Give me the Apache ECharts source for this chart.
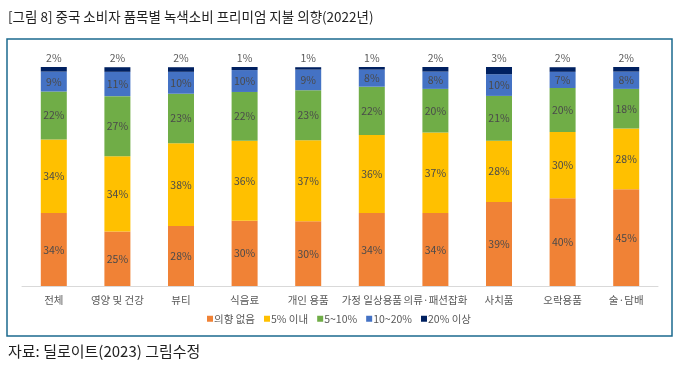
<!DOCTYPE html>
<html><head><meta charset="utf-8">
<script src="https://cdn.jsdelivr.net/npm/echarts@6/dist/echarts.min.js"></script>
<style>html,body{margin:0;padding:0;background:#fff}#c{width:678px;height:370px}</style>
</head><body><div id="c"></div>
<script>
var categories = ['전체','영양 및 건강','뷰티','식음료','개인 용품','가정 일상용품','의류·패션잡화','사치품','오락용품','술·담배'];
var seriesNames = ['의향 없음','5% 이내','5~10%','10~20%','20% 이상'];
// segment heights (percent of bar)
var none   = [33.3, 24.9, 27.4, 29.8, 29.6, 33.3, 33.3, 38.3, 40.1, 44.2];
var upTo5  = [33.6, 34.3, 37.8, 36.5, 36.9, 35.7, 36.8, 28.0, 30.2, 27.7];
var p5to10 = [21.9, 27.5, 22.6, 22.3, 22.9, 22.0, 19.9, 20.5, 20.1, 18.1];
var p10to20= [9.1, 11.1, 10.0, 10.0, 9.4, 7.8, 7.9, 9.9, 7.4, 7.9];
var over20 = [2.1, 2.1, 2.1, 1.4, 1.1, 1.2, 2.1, 3.3, 2.1, 2.1];
// printed labels
var noneLbl   = [34, 25, 28, 30, 30, 34, 34, 39, 40, 45];
var upTo5Lbl  = [34, 34, 38, 36, 37, 36, 37, 28, 30, 28];
var p5to10Lbl = [22, 27, 23, 22, 23, 22, 20, 21, 20, 18];
var p10to20Lbl= [9, 11, 10, 10, 9, 8, 8, 10, 7, 8];
var over20Lbl = [2, 2, 2, 1, 1, 1, 2, 3, 2, 2];
var colors = ['#F08236','#FFC000','#70AD47','#4472C4','#002060'];

var vals = [none, upTo5, p5to10, p10to20, over20];
var lbls = [noneLbl, upTo5Lbl, p5to10Lbl, p10to20Lbl, over20Lbl];
var FONT = '"Noto Sans CJK KR", "Noto Sans", sans-serif';

var series = vals.map(function(v, i){
  return {
    name: seriesNames[i], type: 'bar', stack: 'a', barWidth: 26,
    data: v, itemStyle: {color: colors[i]},
    label: {
      show: true, position: i === 4 ? 'top' : 'inside', distance: 4,
      fontSize: 10.5, fontFamily: FONT, color: i === 4 ? '#595959' : '#4a4a4a',
      formatter: (function(arr){ return function(p){ return arr[p.dataIndex] + '%'; }; })(lbls[i])
    }
  };
});

var chart = echarts.init(document.getElementById('c'), null, {renderer: 'canvas'});
chart.setOption({
  animation: false,
  textStyle: {fontFamily: FONT},
  graphic: [
    {type: 'text', left: 8, top: 10, style: {text: '[그림 8] 중국 소비자 품목별 녹색소비 프리미엄 지불 의향(2022년)', font: '13.5px ' + FONT, fill: '#1f1f1f'}},
    {type: 'rect', shape: {x: 7, y: 39, width: 665, height: 297}, style: {fill: 'none', stroke: '#1b6a8e', lineWidth: 1.5}, silent: true},
    {type: 'text', left: 8, top: 344, style: {text: '자료: 딜로이트(2023) 그림수정', font: '15px ' + FONT, fill: '#1f1f1f'}}
  ],
  legend: {
    data: seriesNames, bottom: 41, left: 'center', itemWidth: 6, itemHeight: 6, itemGap: 9,
    icon: 'rect', textStyle: {fontSize: 10.5, color: '#595959', fontFamily: FONT, padding: [0,0,0,-4]}
  },
  grid: {left: 22, right: 20, top: 67, bottom: 84},
  xAxis: {
    type: 'category', data: categories,
    axisLine: {lineStyle: {color: '#d9d9d9'}}, axisTick: {show: false},
    axisLabel: {interval: 0, fontSize: 10.5, color: '#595959', margin: 9, fontFamily: FONT}
  },
  yAxis: {type: 'value', min: 0, max: 100, show: false, splitLine: {show: false}},
  series: series
});
</script></body></html>
